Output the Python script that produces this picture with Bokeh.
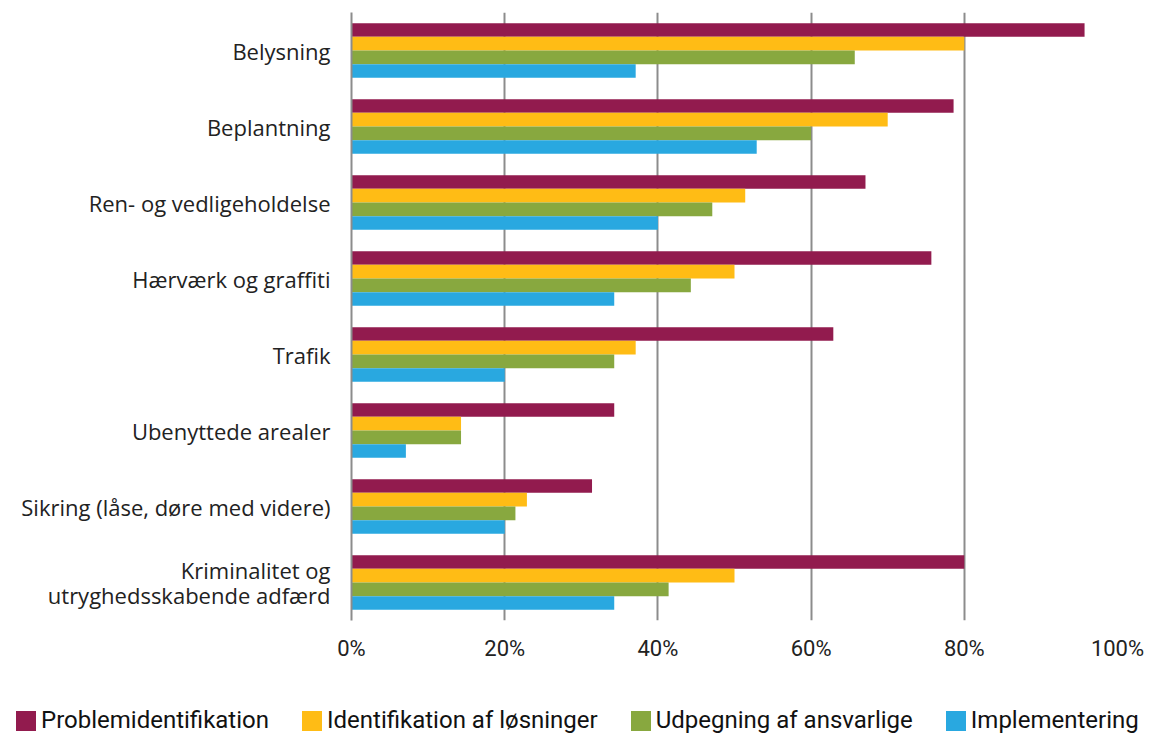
from bokeh.plotting import figure
from bokeh.layouts import column, row
from bokeh.models import FactorRange, Range1d, FixedTicker, Legend, LegendItem, ColumnDataSource
from bokeh.transform import dodge
from bokeh.embed import file_html
from bokeh.resources import INLINE

categories = [
    "Belysning",
    "Beplantning",
    "Ren- og vedligeholdelse",
    "Hærværk og graffiti",
    "Trafik",
    "Ubenyttede arealer",
    "Sikring (låse, døre med videre)",
    "Kriminalitet og\nutryghedsskabende adfærd",
]
problemidentifikation = [95.7, 78.6, 67.1, 75.7, 62.9, 34.3, 31.4, 80.0]
identifikation_af_loesninger = [80.0, 70.0, 51.4, 50.0, 37.1, 14.3, 22.9, 50.0]
udpegning_af_ansvarlige = [65.7, 60.0, 47.1, 44.3, 34.3, 14.3, 21.4, 41.4]
implementering = [37.1, 52.9, 40.0, 34.3, 20.0, 7.1, 20.0, 34.3]

series_names = ["Problemidentifikation", "Identifikation af løsninger",
                "Udpegning af ansvarlige", "Implementering"]
series_keys = ["p", "i", "u", "m"]
colors = ["#921B4E", "#FFBC15", "#88A83F", "#29A8E0"]
offsets = [0.27, 0.09, -0.09, -0.27]
x_ticks = [0, 20, 40, 60, 80, 100]
x_tick_labels = ["0%", "20%", "40%", "60%", "80%", "100%"]

source = ColumnDataSource(dict(
    cat=categories,
    p=problemidentifikation,
    i=identifikation_af_loesninger,
    u=udpegning_af_ansvarlige,
    m=implementering,
))

p = figure(
    width=1144, height=690,
    y_range=FactorRange(*list(reversed(categories)), range_padding=0),
    x_range=Range1d(0, 100),
    output_backend="svg", toolbar_location=None,
    min_border_left=351, min_border_right=27, min_border_top=12, min_border_bottom=70,
)
p.outline_line_color = None

for key, col, off in zip(series_keys, colors, offsets):
    p.hbar(y=dodge("cat", off, range=p.y_range), left=0, right=key, height=0.18,
           source=source, fill_color=col, line_color=None)

p.ygrid.grid_line_color = None
p.xgrid.grid_line_color = "#8c8c8c"
p.xgrid.grid_line_width = 2
p.xaxis.ticker = FixedTicker(ticks=x_ticks)
p.xaxis.major_label_overrides = {t: l for t, l in zip(x_ticks, x_tick_labels)}
p.xaxis.axis_line_color = None
p.xaxis.major_tick_line_color = None
p.xaxis.minor_tick_line_color = None
p.xaxis.major_label_standoff = 9
p.xaxis.major_label_text_font = "Roboto"
p.xaxis.major_label_text_font_size = "22px"
p.xaxis.major_label_text_color = "#222222"

p.yaxis.axis_line_color = "#8c8c8c"
p.yaxis.axis_line_width = 2
p.yaxis.major_tick_line_color = None
p.yaxis.minor_tick_line_color = None
p.yaxis.major_label_standoff = 15
p.yaxis.major_label_text_font = "Open Sans"
p.yaxis.major_label_text_font_size = "22px"
p.yaxis.major_label_text_color = "#222222"
p.yaxis.major_label_text_line_height = 0.86

# legend strip (separate figure below the chart)
leg = figure(
    width=1152, height=44, x_range=Range1d(0, 1), y_range=Range1d(0, 1),
    output_backend="svg", toolbar_location=None,
    x_axis_type=None, y_axis_type=None,
    min_border=0, min_border_left=0, min_border_right=0, min_border_top=0, min_border_bottom=0,
)
leg.outline_line_color = None
leg.grid.visible = False
# legend swatches only: these renderers reference the same data but draw nothing
# in this strip (categorical y on a numeric range)
leg_renderers = [leg.hbar(y="cat", left=0, right=k, height=0.18, source=source,
                          fill_color=c, line_color=None)
                 for k, c in zip(series_keys, colors)]

legend = Legend(
    items=[LegendItem(label=n, renderers=[r]) for n, r in zip(series_names, leg_renderers)],
    location=(13, 0), orientation="horizontal",
)
legend.border_line_color = None
legend.background_fill_alpha = 0
legend.padding = 0
legend.margin = 0
legend.spacing = 30
legend.glyph_width = 25
legend.glyph_height = 25
legend.label_standoff = 3
legend.label_text_font = "Roboto"
legend.label_text_font_size = "24px"
legend.label_text_color = "#111111"
leg.add_layout(legend)

layout = column(p, row(leg), spacing=0)
open("out.html", "w").write(file_html(layout, INLINE))
